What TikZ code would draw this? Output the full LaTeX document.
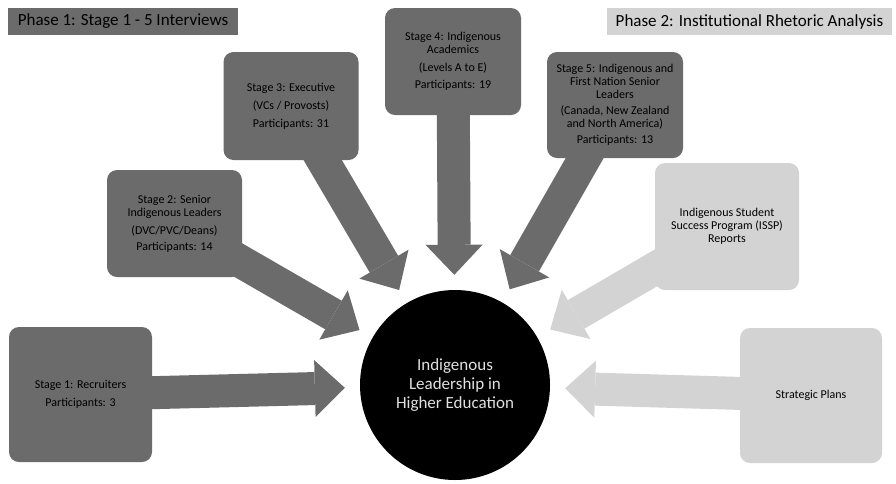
\documentclass[tikz,border=0pt]{standalone}
\usepackage{fontspec}
\setmainfont{Carlito}
\usetikzlibrary{arrows.meta,backgrounds}
\definecolor{darkbox}{HTML}{6B6B6B}
\definecolor{lightbox}{HTML}{D3D3D3}
\begin{document}
\begin{tikzpicture}[x=1pt,y=-1pt,
  box/.style={rounded corners=10pt,inner sep=0pt,align=center,font=\fontsize{12}{13}\selectfont},
  darkstage/.style={box,fill=darkbox},
  lightstage/.style={box,fill=lightbox},
  phase/.style={inner sep=0pt,minimum height=27pt,font=\fontsize{17}{20}\selectfont},
  blockarrow/.style={line width=33pt,-{Triangle[width=57pt,length=30pt,line width=0pt]},shorten >=15pt,shorten <=-12pt}]
\useasboundingbox (0,0) rectangle (896,483);
\node[phase,fill=darkbox,minimum width=230pt] (ph1) at (123,21.5) {Phase 1: Stage 1 - 5 Interviews};
\node[phase,fill=lightbox,minimum width=285pt] (ph2) at (749.5,21.5) {Phase 2: Institutional Rhetoric Analysis};
\node[circle,fill=black,minimum size=190pt,inner sep=0pt,align=center,text=white!88!black,
  font=\fontsize{17}{19}\selectfont] (hub) at (455,385) {Indigenous\\Leadership in\\Higher Education};
% phase 1 stages
\node[darkstage,minimum width=143pt,minimum height=135pt] (s1) at (80.5,394.5) {Stage 1: Recruiters\\[5pt]Participants: 3};
\node[darkstage,minimum width=135pt,minimum height=107pt] (s2) at (174.5,223.5) {Stage 2: Senior\\Indigenous Leaders\\[5pt](DVC/PVC/Deans)\\[3pt]Participants: 14};
\node[darkstage,minimum width=135pt,minimum height=108pt] (s3) at (291,106) {Stage 3: Executive\\[5pt](VCs / Provosts)\\[5pt]Participants: 31};
\node[darkstage,minimum width=136pt,minimum height=107pt] (s4) at (453,61.5) {Stage 4: Indigenous\\Academics\\[5pt](Levels A to E)\\[4pt]Participants: 19};
\node[darkstage,minimum width=136pt,minimum height=106pt] (s5) at (615,105) {Stage 5: Indigenous and\\First Nation Senior\\Leaders\\[3pt](Canada, New Zealand\\and North America)\\[3pt]Participants: 13};
% phase 2 documents
\node[lightstage,minimum width=144pt,minimum height=127pt] (issp) at (727,226.5) {Indigenous Student\\Success Program (ISSP)\\Reports};
\node[lightstage,minimum width=142pt,minimum height=135pt] (plans) at (811,395.5) {Strategic Plans};
\begin{scope}[on background layer]
\foreach \s in {s1,s2,s3,s4,s5}
  \draw[blockarrow,darkbox] (\s) -- (hub);
\foreach \s in {issp,plans}
  \draw[blockarrow,lightbox] (\s) -- (hub);
\end{scope}
\end{tikzpicture}
\end{document}
